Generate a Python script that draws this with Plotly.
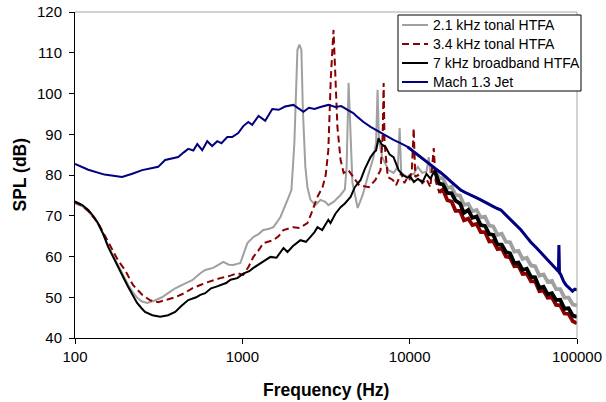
import plotly.graph_objects as go

# ---------------- data ----------------
gray_f = [100,110,120,130,137,147,158,170,181,195,208,222,235,250,270,300,331,360,397,450,
          502,561,600,670,770,830,883,973,1030,1072,1164,1250,1335,1450,1534,1690,1862,1965,2046,2100,
          2134,2193,2254,2300,2380,2449,2553,2735,2930,3133,3265,3510,3865,4100,4200,4315,4400,4550,4890,5240,
          5610,6080,6300,6430,6550,6850,7480,8010,8500,8710,8900,9300,9720,
          10000,10600,11170,11900,12600,13000,13300,14100,15000,15800,16800,17800,18800,20000,21100,
          22400,23700,25100,26600,28200,29900,31600,33500,35500,37600,39800,42200,44700,47300,50100,
          53100,56200,59600,63100,66800,70800,75000,79400,84100,89100,94400,100000]
gray_db = [73.0,72.4,71.1,69.5,68.1,65.6,62.6,60.0,57.6,55.0,53.0,51.2,49.9,49.0,48.6,49.2,50.0,51.0,52.2,53.3,
           54.2,55.9,56.7,57.2,58.7,58.0,57.9,58.4,61.0,63.3,64.8,65.5,66.5,66.8,67.2,69.7,73.9,76.3,87.8,104.0,
           110.7,112.0,110.7,96.0,82.0,77.0,73.9,72.6,73.9,73.4,72.6,73.4,75.1,76.5,82.0,102.6,91.8,78.1,71.9,75.1,
           79.5,84.4,88.0,100.9,88.6,84.4,81.2,80.5,82.0,91.5,80.5,80.0,79.5,
           80.0,80.3,82.0,80.5,80.8,84.4,80.5,81.5,79.3,79.2,76.8,77.1,75.1,74.9,72.7,
           72.9,71.1,71.4,69.6,69.8,67.6,67.4,65.3,65.6,63.6,63.5,61.2,61.4,59.4,59.7,
           57.8,57.6,55.3,55.6,53.8,54.0,52.0,52.0,49.9,49.9,48.2,48.0]

red_f = [100,110,120,130,137,147,158,170,181,199,222,252,280,314,350,397,450,502,561,600,
         738,850,933,1013,1090,1164,1250,1335,1534,1650,1762,2018,2200,2449,2553,2663,2800,3015,3150,3265,
         3380,3507,3600,3700,3865,4030,4300,4620,4990,5700,6240,6700,6900,6990,7080,7400,7930,8300,8900,9300,9720,
         10000,10300,10570,10800,11200,11900,12600,13300,13930,14300,15000,15800,16800,17800,18800,20000,
         21100,22400,23700,25100,26600,28200,29900,31600,33500,35500,37600,39800,42200,44700,47300,50100,
         53100,56200,59600,63100,66800,70800,75000,79400,84100,89100,94400,100000]
red_db = [73.3,72.5,71.2,69.6,68.3,66.0,63.5,61.2,59.0,56.7,53.0,50.6,49.3,48.8,49.4,50.0,51.0,52.2,53.0,53.5,
          54.7,55.3,55.9,55.5,57.5,59.9,61.5,63.3,64.0,65.0,66.5,67.2,67.0,68.2,70.0,72.1,74.5,77.0,80.0,86.1,
          104.0,115.6,104.0,91.8,83.7,80.5,81.2,79.5,77.5,77.0,78.8,81.2,90.0,102.6,87.8,79.5,78.8,77.5,80.5,78.0,79.5,
          79.0,81.0,91.5,79.5,80.0,78.0,79.0,77.0,86.6,78.5,75.8,76.4,73.8,73.5,71.2,71.2,
          68.9,69.3,67.7,68.0,66.0,66.0,63.7,63.8,61.8,62.0,60.0,59.8,57.6,57.7,55.7,55.8,
          53.9,53.9,51.5,51.6,49.9,50.0,48.1,48.0,46.0,45.9,44.1,43.6]

black_f = [100,110,120,130,137,147,158,170,181,195,208,222,235,250,262,290,323,360,397,430,
           475,530,561,600,650,700,738,800,850,933,1013,1100,1164,1250,1335,1472,1600,1762,1862,2000,
           2223,2400,2553,2700,2813,3000,3265,3365,3600,3865,4100,4436,4700,5093,5400,5840,6100,6300,6515,6800,
           7180,7600,8010,8300,8590,9100,9720,
           10000,10600,11200,11900,12600,13300,14100,15000,15800,16800,17800,18800,20000,21100,22400,23700,
           25100,26600,28200,29900,31600,33500,35500,37600,39800,42200,44700,47300,50100,53100,56200,59600,
           63100,66800,70800,75000,79400,84100,89100,94400,100000]
black_db = [73.5,72.7,71.4,69.7,68.2,65.6,62.3,59.8,57.4,54.8,52.5,50.4,48.6,47.3,46.4,45.6,45.2,45.6,46.4,47.8,
            49.3,50.0,50.6,51.0,52.2,52.6,53.0,53.5,54.3,54.7,55.8,56.4,57.2,58.0,58.8,59.9,59.7,62.1,61.1,62.5,
            64.0,63.6,64.8,66.0,67.2,66.5,69.0,68.2,70.5,72.1,73.0,74.6,77.0,78.8,81.5,84.4,85.5,86.0,89.0,87.5,
            86.9,85.0,84.4,82.5,81.2,80.0,79.3,
            79.8,78.3,79.1,78.2,80.3,79.1,81.1,77.9,77.7,75.6,75.5,73.7,73.0,70.7,71.4,69.5,
            69.8,67.7,67.5,65.5,65.3,62.9,62.9,61.1,60.8,58.4,58.5,56.7,57.0,55.0,54.9,52.3,
            52.6,50.7,51.0,49.3,49.4,47.2,47.3,45.5,45.2]

blue_f = [100,120,150,191,220,252,290,314,346,380,414,445,475,510,538,576,617,660,708,750,
          813,870,945,1013,1085,1145,1250,1370,1510,1650,1800,2018,2150,2318,2500,2700,2930,3265,3600,3900,
          4256,4600,4890,5300,5840,6200,6700,7300,8010,8800,9720,10600,11640,12500,13350,14300,15350,16400,17500,18800,
          20200,21500,23000,24800,26600,28200,30000,32500,35100,37500,40000,43000,46300,49500,53000,57000,60900,64500,67000,70000,
          72800,76500,77500,78000,78500,79500,83000,86000,88300,91000,94000,97000,100000]
blue_db = [82.7,81.3,80.1,79.5,80.3,81.2,81.7,82.0,83.7,84.0,84.4,85.5,86.4,86.0,87.6,86.1,88.3,87.1,88.3,87.8,
           89.3,89.3,90.3,92.0,93.0,92.3,94.5,93.3,96.2,96.0,96.8,97.2,96.5,95.5,96.5,96.2,96.7,97.2,96.7,96.9,
           96.0,95.2,94.2,93.0,91.8,91.2,90.3,89.6,88.6,87.8,86.9,85.6,84.4,83.4,82.5,81.5,80.7,79.6,78.5,77.3,
           76.3,75.7,75.2,74.5,73.9,73.3,72.7,72.0,71.4,70.2,69.0,67.8,66.5,65.0,63.5,62.2,60.9,59.8,59.0,58.2,
           57.4,56.5,56.3,62.8,56.0,55.8,54.0,53.0,52.5,52.0,51.5,52.0,51.8]

series_names = ["2.1 kHz tonal HTFA", "3.4 kHz tonal HTFA", "7 kHz broadband HTFA", "Mach 1.3 Jet"]
x_tick_vals = [100, 1000, 10000, 100000]
x_tick_text = ["100", "1000", "10000", "100000"]
y_tick_vals = [40, 50, 60, 70, 80, 90, 100, 110, 120]

# ---------------- figure ----------------
FONT = "Liberation Sans, Arial, sans-serif"
W, H = 606, 402
ML, MR, MT, MB = 75, 29, 12, 64
PW, PH = W - ML - MR, H - MT - MB

def px_x(p):  # pixel -> paper x
    return (p - ML) / PW

def px_y(p):  # pixel -> paper y
    return (H - MB - p) / PH

fig = go.Figure()

DASH = "7px,4px"
specs = [
    (gray_f, gray_db, series_names[0], "#A0A0A0", None, 14000, 3.8),
    (red_f, red_db, series_names[1], "#8B0000", DASH, 14500, 3.8),
    (black_f, black_db, series_names[2], "#000000", None, 14000, 3.8),
    (blue_f, blue_db, series_names[3], "#000080", None, 9000, 3.0),
]
shapes = [
    dict(type="line", xref="paper", yref="paper", x0=0, x1=1, y0=1, y1=1,
         line=dict(color="#A6A6A6", width=1)),
    dict(type="line", xref="paper", yref="paper", x0=1, x1=1, y0=0, y1=1,
         line=dict(color="#A6A6A6", width=1)),
]
annotations = [
    dict(text="<b>Frequency (Hz)</b>", xref="paper", yref="paper", x=0.5, y=px_y(390),
         xanchor="center", yanchor="middle", showarrow=False,
         font=dict(family=FONT, size=17.5, color="black")),
    dict(text="<b>SPL (dB)</b>", xref="paper", yref="paper", x=px_x(19.5), y=0.5,
         xanchor="center", yanchor="middle", textangle=-90, showarrow=False,
         font=dict(family=FONT, size=17.5, color="black")),
]

for f, db, name, col, dash, fcut, wthick in specs:
    fig.add_trace(go.Scatter(x=f, y=db, mode="lines", name=name, showlegend=False,
                             line=dict(color=col, width=2, dash=dash)))
    hf = [(a, b) for a, b in zip(f, db) if a >= fcut]
    fig.add_trace(go.Scatter(x=[a for a, _ in hf], y=[b for _, b in hf], mode="lines",
                             showlegend=False, hoverinfo="skip",
                             line=dict(color=col, width=wthick)))

# legend box drawn on top of the plot (as in the reference)
shapes.append(dict(type="rect", xref="paper", yref="paper", layer="above",
                   x0=px_x(398), x1=px_x(581), y0=px_y(91), y1=px_y(15),
                   fillcolor="white", line=dict(color="black", width=1)))
rows = [25, 44, 63, 82]
for (f, db, name, col, dash, fcut, wthick), ry in zip(specs, rows):
    shapes.append(dict(type="line", xref="paper", yref="paper", layer="above",
                       x0=px_x(402), x1=px_x(428), y0=px_y(ry), y1=px_y(ry),
                       line=dict(color=col, width=2, dash=dash)))
    annotations.append(dict(text=name, xref="paper", yref="paper", x=px_x(431), y=px_y(ry),
                            xanchor="left", yanchor="middle", showarrow=False,
                            font=dict(family=FONT, size=14, color="black")))

fig.update_layout(
    width=W, height=H, autosize=False,
    margin=dict(l=ML, r=MR, t=MT, b=MB, pad=0, autoexpand=False),
    paper_bgcolor="white", plot_bgcolor="white",
    font=dict(family=FONT, size=15, color="black"),
    showlegend=False,
    xaxis=dict(type="log", range=[2, 5], tickvals=x_tick_vals, ticktext=x_tick_text,
               ticks="outside", ticklen=5, tickcolor="black", showline=True,
               linecolor="black", linewidth=1, showgrid=False, zeroline=False,
               automargin=False,
               tickfont=dict(family=FONT, size=15, color="black")),
    yaxis=dict(range=[40, 120], tickvals=y_tick_vals, ticks="outside", ticklen=5,
               tickcolor="black", showline=True, linecolor="black", linewidth=1,
               showgrid=False, zeroline=False, ticklabelstandoff=4, automargin=False,
               tickfont=dict(family=FONT, size=15, color="black")),
    shapes=shapes,
    annotations=annotations,
)

fig.write_html("out.html")
